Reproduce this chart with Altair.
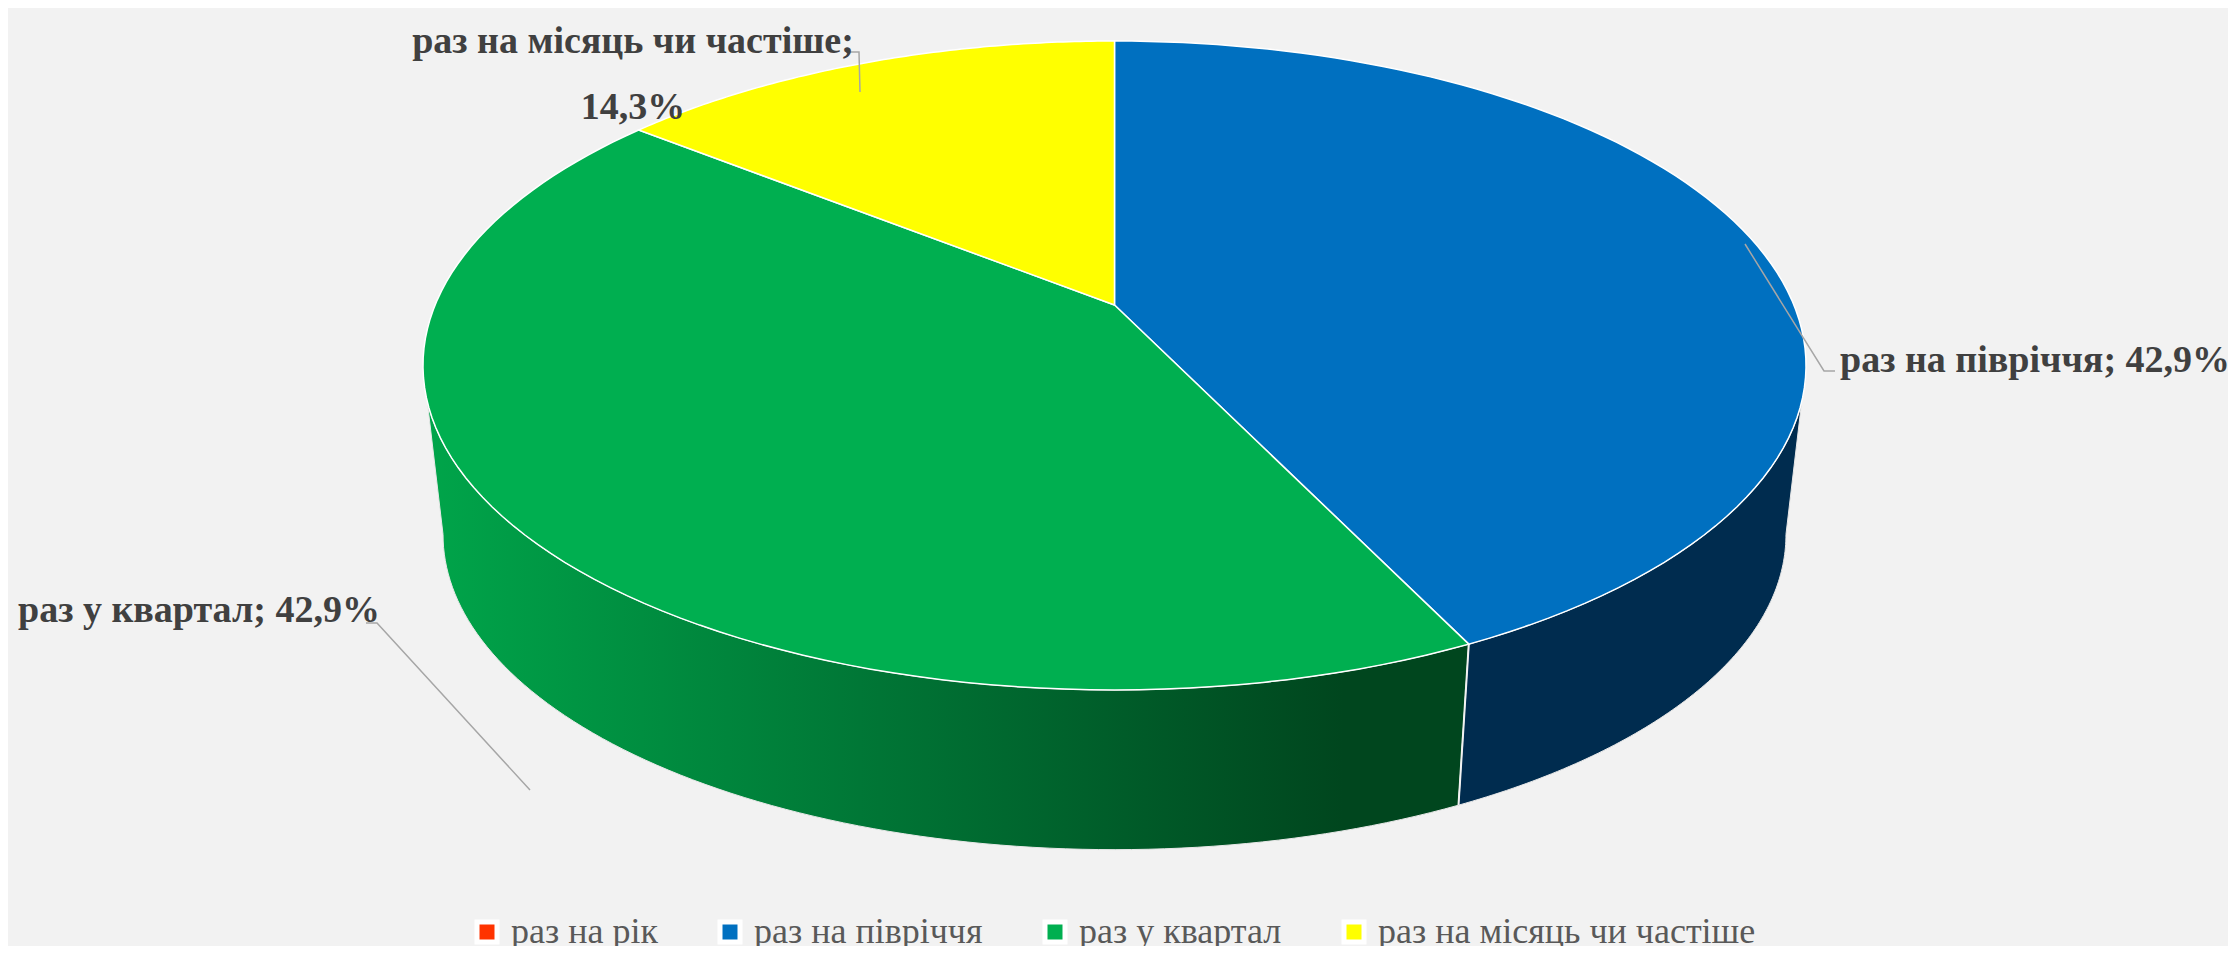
import math
import altair as alt

categories = ["раз на рік", "раз на півріччя", "раз у квартал", "раз на місяць чи частіше"]
shares = [0.0, 42.9, 42.9, 14.3]
labels = ["", "раз на півріччя; 42,9%", "раз у квартал; 42,9%", "раз на місяць чи частіше;\n14,3%"]
colors = ["#FF3300", "#0070C0", "#00AF50", "#FFFF00"]

FONT = "Liberation Sans Narrow"
OX, OY = 8, 8
K = 0.1864
TOP = dict(x0=1114.5, y0=305.0, A=679.4, B=313.2)
BOT = dict(x0=1114.5, y0=476.0, A=659.7, B=304.0)
WALL_RIGHT, WALL_LEFT = 100.7, 259.3


def pt(deg, f):
    a = math.radians(deg)
    u, v = math.sin(a), math.cos(a)
    w = 1 + K * v
    return [f["x0"] + f["A"] * u / w - OX, f["y0"] - f["B"] * v / w - OY]


def arc(a0, a1, f, n=90):
    return [pt(a0 + (a1 - a0) * i / n, f) for i in range(n + 1)]


def feature(coords, cat, kind="Polygon"):
    geom = {"type": kind, "coordinates": [coords] if kind == "Polygon" else coords}
    return {"type": "Feature", "geometry": geom, "properties": {"category": cat}}


total = sum(shares)
edges = [0.0]
for s in shares:
    edges.append(edges[-1] + 360 * s / total)

apex = [TOP["x0"] - OX, TOP["y0"] - OY]
top_faces = []
for c, a0, a1 in zip(categories, edges[:-1], edges[1:]):
    if a1 > a0:
        top_faces.append(feature([apex] + arc(a0, a1, TOP) + [apex], c))

seam = edges[2]
blue_wall = feature(arc(WALL_RIGHT, seam, TOP) + arc(seam, WALL_RIGHT, BOT) + [pt(WALL_RIGHT, TOP)], categories[1])
green_wall = feature(arc(seam, WALL_LEFT, TOP) + arc(WALL_LEFT, seam, BOT) + [pt(seam, TOP)], categories[2])
seam_line = feature([pt(seam, TOP), pt(seam, BOT)], "seam", "LineString")

leaders = [
    feature([[1745 - OX, 244 - OY], [1824 - OX, 371 - OY], [1835 - OX, 371 - OY]], categories[1], "LineString"),
    feature([[366 - OX, 623 - OY], [377 - OX, 623 - OY], [530 - OX, 790 - OY]], categories[2], "LineString"),
    feature([[846 - OX, 52 - OY], [859 - OX, 52 - OY], [860 - OX, 92 - OY]], categories[3], "LineString"),
]

label_rows = [
    {"t": labels[1], "x": 1840 - OX, "y": 372 - OY},
    {"t": labels[2], "x": 18 - OX, "y": 622 - OY},
    {"t": labels[3], "x": 633 - OX, "y": 53 - OY},
]

proj = dict(type="identity", scale=1, translate=[0, 0])
geo = lambda feats: alt.Data(values=feats)

wall_blue = alt.Chart(geo([blue_wall])).mark_geoshape(
    fill="#002C4F", stroke="#E8E8E8", strokeWidth=1).project(**proj)
wall_green = alt.Chart(geo([green_wall])).mark_geoshape(
    fill=alt.LinearGradient(
        gradient="linear", x1=0, x2=1, y1=0, y2=0,
        stops=[
            alt.GradientStop(offset=0, color="#00A54A"),
            alt.GradientStop(offset=0.5, color="#006E32"),
            alt.GradientStop(offset=0.88, color="#00461E"),
            alt.GradientStop(offset=1, color="#00461E"),
        ]),
    stroke="#E8E8E8", strokeWidth=1).project(**proj)
seam_mark = alt.Chart(geo([seam_line])).mark_geoshape(
    filled=False, stroke="#F2F2F2", strokeWidth=2).project(**proj)
top = alt.Chart(geo(top_faces)).mark_geoshape(stroke="white", strokeWidth=1.5).encode(
    color=alt.Color(
        "properties.category:N",
        scale=alt.Scale(domain=categories, range=colors),
        sort=None,
        legend=alt.Legend(
            title=None, orient="none", legendX=461, legendY=906, direction="horizontal",
            columns=4, columnPadding=52, symbolType="square", symbolSize=400,
            symbolStrokeColor="white", symbolStrokeWidth=5, symbolOpacity=1,
            labelFont=FONT, labelFontSize=36, labelColor="#595959", labelOffset=6,
            labelLimit=600, labelBaseline="middle", symbolOffset=0,
        ),
    )
).project(**proj)
lead = alt.Chart(geo(leaders)).mark_geoshape(
    filled=False, stroke="#A6A6A6", strokeWidth=1.5).project(**proj)
text_left = alt.Chart(alt.Data(values=label_rows[:2])).mark_text(
    font=FONT, fontSize=38, fontWeight="bold", color="#404040", baseline="alphabetic", align="left",
).encode(x=alt.X("x:Q", scale=None, axis=None), y=alt.Y("y:Q", scale=None, axis=None), text="t:N")
text_center = alt.Chart(alt.Data(values=label_rows[2:])).mark_text(
    font=FONT, fontSize=38, fontWeight="bold", color="#404040", baseline="alphabetic", align="center",
    lineBreak="\n", lineHeight=66,
).encode(x=alt.X("x:Q", scale=None, axis=None), y=alt.Y("y:Q", scale=None, axis=None), text="t:N")

chart = alt.layer(wall_green, wall_blue, seam_mark, top, lead, text_left, text_center).properties(
    width=2220, height=938, background="#F2F2F2", padding=0,
    autosize=alt.AutoSizeParams(type="none"),
).configure_view(stroke=None)

chart.save("out.html", embed_options={"renderer": "svg", "actions": False})
